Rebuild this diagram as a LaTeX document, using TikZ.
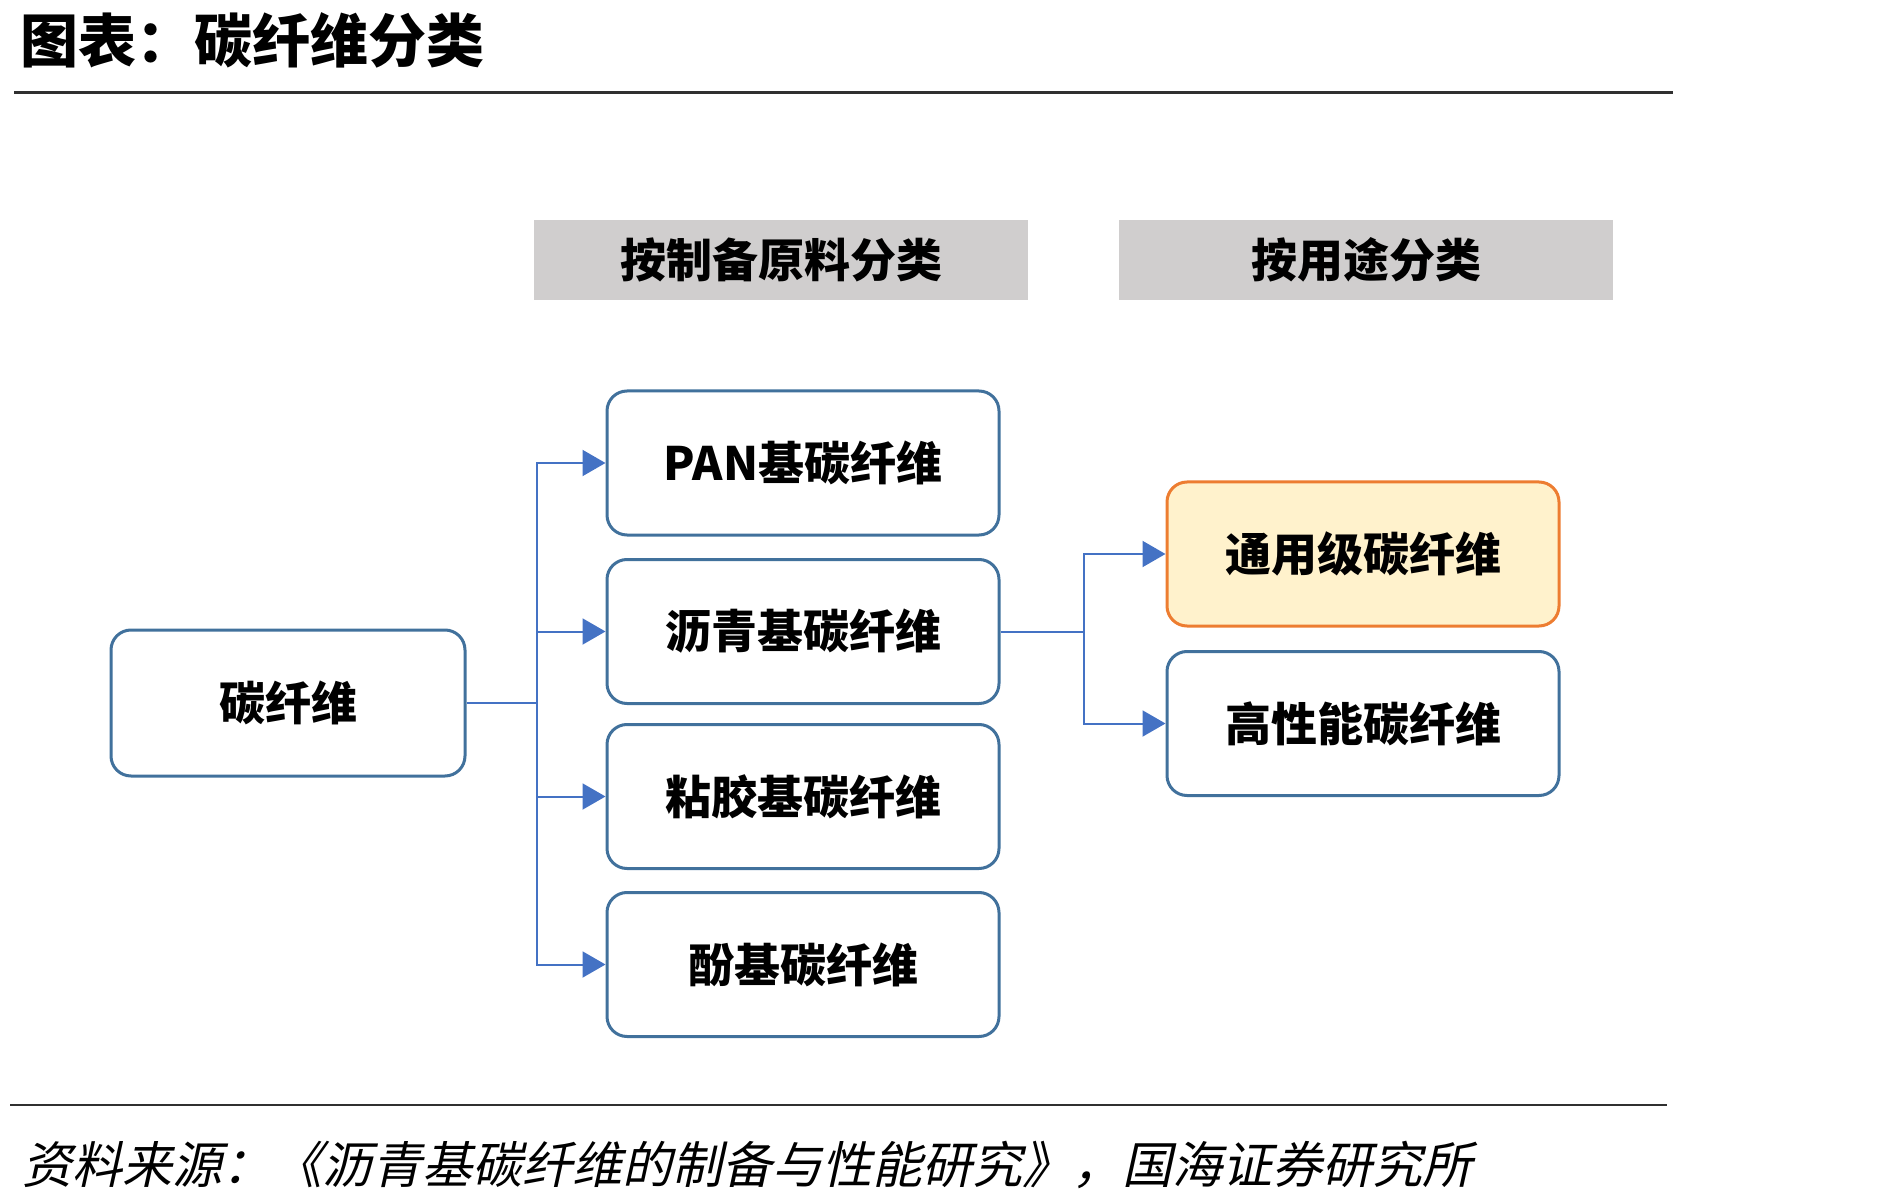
\documentclass[tikz,border=0pt]{standalone}
\usepackage{fontspec}
\setmainfont{Noto Sans CJK SC}
\newfontfamily\cjkit{Noto Sans CJK SC}[FakeSlant=0.22]
\usetikzlibrary{arrows.meta}
\definecolor{boxblue}{HTML}{41719C}
\definecolor{connblue}{HTML}{4472C4}
\definecolor{hdrgray}{HTML}{D0CECE}
\definecolor{orgline}{HTML}{ED7D31}
\definecolor{orgfill}{HTML}{FFF2CC}
\definecolor{rulegray}{HTML}{303030}
\tikzset{
  catbox/.style={draw=boxblue, line width=1.5pt, rounded corners=10pt, fill=white,
    minimum width=196pt, minimum height=72pt, font=\fontsize{23}{26}\selectfont\bfseries, inner sep=0pt},
  hdrbox/.style={fill=hdrgray, minimum width=247pt, minimum height=40pt, inner sep=0pt,
    font=\fontsize{23}{26}\selectfont\bfseries},
  conn/.style={draw=connblue, line width=1pt},
  connarrow/.style={conn, -{Triangle[length=11.5pt,width=13pt]}},
  rulel/.style={draw=rulegray, line width=1.4pt}
}
\begin{document}
\begin{tikzpicture}[x=0.5pt,y=-0.5pt]
\useasboundingbox (0,0) rectangle (1885,1203);
% title
\node[anchor=west, inner sep=0pt, font=\fontsize{29}{32}\selectfont\bfseries] (title) at (20,40) {图表：碳纤维分类};
\coordinate (r1a) at (14,92.6);
\coordinate (r1b) at (1673,92.6);
\draw[rulel] (r1a) -- (r1b);
% headers
\node[hdrbox] (h1) at (781,260) {按制备原料分类};
\node[hdrbox] (h2) at (1366,260) {按用途分类};
% boxes
\node[catbox, minimum width=177pt, minimum height=73pt] (cf) at (288,703) {碳纤维};
\node[catbox] (pan) at (803,463) {PAN基碳纤维};
\node[catbox] (lq) at (803,631.5) {沥青基碳纤维};
\node[catbox] (nj) at (803,796.5) {粘胶基碳纤维};
\node[catbox] (fq) at (803,964.5) {酚基碳纤维};
\node[catbox, draw=orgline, fill=orgfill] (ty) at (1363,554) {通用级碳纤维};
\node[catbox] (gx) at (1363,723.5) {高性能碳纤维};
% connectors
\coordinate (t1) at (537,703);
\draw[conn] (cf.east) -- (t1);
\draw[connarrow] (t1) |- (pan.west);
\draw[connarrow] (t1) |- (lq.west);
\draw[connarrow] (t1) |- (nj.west);
\draw[connarrow] (t1) |- (fq.west);
\coordinate (t2) at (1084,631.5);
\draw[conn] (lq.east) -- (t2);
\draw[connarrow] (t2) |- (ty.west);
\draw[connarrow] (t2) |- (gx.west);
% bottom rule and source
\coordinate (r2a) at (10,1105);
\coordinate (r2b) at (1667,1105);
\draw[rulel] (r2a) -- (r2b);
\node[anchor=west, inner sep=0pt, font=\cjkit\fontsize{25}{28}\selectfont] (src) at (22,1165) {资料来源：《沥青基碳纤维的制备与性能研究》，国海证券研究所};
\end{tikzpicture}
\end{document}
